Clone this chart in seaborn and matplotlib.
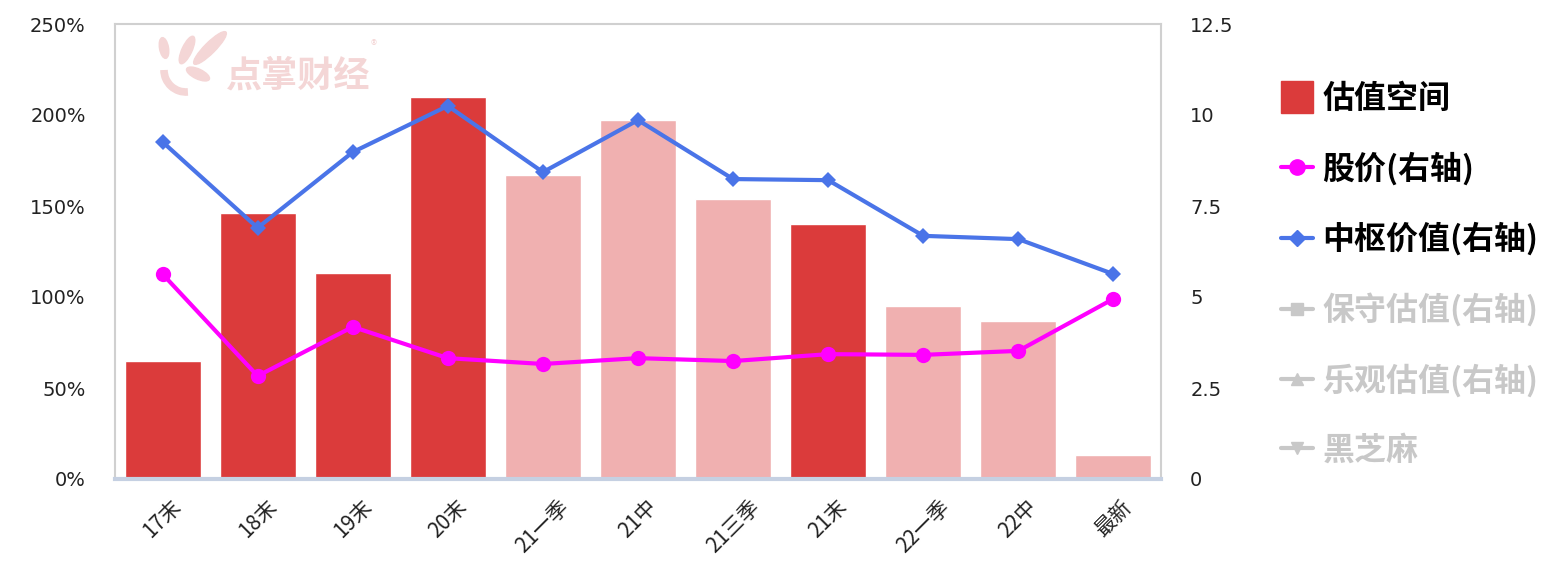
import numpy as np
import pandas as pd
import matplotlib
matplotlib.use("Agg")
import matplotlib.pyplot as plt
import seaborn as sns
from matplotlib.lines import Line2D
from matplotlib.patches import Ellipse, Arc
from matplotlib.transforms import IdentityTransform
from matplotlib.ticker import FuncFormatter, FixedLocator

# ---------------- data ----------------
categories = ["17末", "18末", "19末", "20末", "21一季", "21中", "21三季", "21末", "22一季", "22中", "最新"]
valuation_space = [65, 146, 113, 210, 167, 197, 154, 140, 95, 87, 13]   # 估值空间 (%)
is_year_end = [True, True, True, True, False, False, False, True, False, False, False]
stock_price = [5.63, 2.83, 4.18, 3.32, 3.16, 3.32, 3.24, 3.43, 3.41, 3.52, 4.95]   # 股价(右轴)
pivot_value = [9.26, 6.90, 8.98, 10.25, 8.43, 9.86, 8.24, 8.21, 6.68, 6.59, 5.63]  # 中枢价值(右轴)
left_ticks = [0, 50, 100, 150, 200, 250]
right_ticks = [0, 2.5, 5, 7.5, 10, 12.5]
right_tick_labels = ["0", "2.5", "5", "7.5", "10", "12.5"]
legend_labels = ["估值空间", "股价(右轴)", "中枢价值(右轴)", "保守估值(右轴)", "乐观估值(右轴)", "黑芝麻"]
watermark_text = "点掌财经"

# ---------------- style ----------------
sns.set_theme(style="white")
plt.rcParams["font.family"] = ["Noto Sans CJK SC", "DejaVu Sans"]

DARK_RED = "#DB3B3B"
LIGHT_RED = "#F0B0B0"
MAGENTA = "#FF00FF"
BLUE = "#4A74E8"
GRAY = "#C8C8C8"
WM = "#F4D6D6"

W, H = 1552, 572
fig = plt.figure(figsize=(W / 100, H / 100), dpi=100)
ax = fig.add_axes([115 / W, (H - 479) / H, (1161 - 115) / W, (479 - 24) / H])

df = pd.DataFrame({"cat": categories, "val": valuation_space})
palette = [DARK_RED if e else LIGHT_RED for e in is_year_end]
sns.barplot(data=df, x="cat", y="val", hue="cat", palette=palette, legend=False,
            width=0.8, saturation=1, ax=ax, zorder=2)

ax.set_xlim(-0.5, len(categories) - 0.5)
ax.set_ylim(0, 250)
ax.yaxis.set_major_locator(FixedLocator(left_ticks))
ax.yaxis.set_major_formatter(FuncFormatter(lambda v, p: f"{v:.0f}%"))
ax.set_xlabel("")
ax.set_ylabel("")
ax.tick_params(axis="y", length=0, pad=21, labelsize=14, labelcolor="#222222")
ax.tick_params(axis="x", length=0, pad=12, labelsize=15, labelcolor="#222222")
for lab in ax.get_yticklabels():
    lab.set_family(["DejaVu Sans"])
for lab in ax.get_xticklabels():
    lab.set_rotation(45)
    lab.set_ha("center")
    lab.set_va("top")
    lab.set_family(["Noto Sans CJK SC", "DejaVu Sans"])

for side in ["left", "top", "right"]:
    ax.spines[side].set_color("#D0D0D0")
    ax.spines[side].set_linewidth(1.5)
ax.spines["bottom"].set_color("#C5D0E2")
ax.spines["bottom"].set_linewidth(3)

# watermark (pixel coordinates, y measured from the top of the image)
def px(xi, yi):
    return (xi, H - yi)

fig.text(226 / W, 1 - 76 / H, watermark_text, fontsize=26, fontweight="bold",
         color=WM, ha="left", va="center", zorder=1)
fig.text(371 / W, 1 - 46 / H, "®", fontsize=9, color=WM, ha="left", va="center", zorder=1)
for (cx, cy, ln, wd, ang) in [(164, 48, 21, 9, 100), (187, 50, 30, 10, 65),
                              (210, 48, 45, 11, 45), (198, 74, 25, 10, -25)]:
    fig.add_artist(Ellipse(px(cx, cy), ln, wd, angle=ang, transform=IdentityTransform(),
                           color=WM, zorder=1))
fig.add_artist(Arc(px(186, 70), 44, 44, theta1=180, theta2=275, transform=IdentityTransform(),
                   color=WM, linewidth=5.5, zorder=1))

# right axis lines
ax2 = ax.twinx()
x = np.arange(len(categories))
sns.lineplot(x=x, y=stock_price, ax=ax2, color=MAGENTA, linewidth=3, marker="o",
             markersize=11, markeredgewidth=0, zorder=4)
sns.lineplot(x=x, y=pivot_value, ax=ax2, color=BLUE, linewidth=3, marker="D",
             markersize=8, markeredgewidth=0, zorder=4)
ax2.set_ylim(0, 12.5)
ax2.set_xlim(-0.5, len(categories) - 0.5)
ax2.yaxis.set_major_locator(FixedLocator(right_ticks))
ax2.set_yticklabels(right_tick_labels)
ax2.tick_params(axis="y", length=0, pad=21, labelsize=14, labelcolor="#222222")
for lab in ax2.get_yticklabels():
    lab.set_family(["DejaVu Sans"])
ax2.grid(False)
ax.grid(False)
for side in ["left", "top", "right", "bottom"]:
    ax2.spines[side].set_visible(False)

# legend
handles = [
    Line2D([], [], marker="s", markersize=23, color=DARK_RED, linestyle="none"),
    Line2D([], [], marker="o", markersize=11, color=MAGENTA, linewidth=3),
    Line2D([], [], marker="D", markersize=8, color=BLUE, linewidth=3),
    Line2D([], [], marker="s", markersize=9, color=GRAY, linewidth=3),
    Line2D([], [], marker="^", markersize=9, color=GRAY, linewidth=3),
    Line2D([], [], marker="v", markersize=9, color=GRAY, linewidth=3),
]
leg = ax2.legend(handles, legend_labels, loc="upper left",
                 bbox_to_anchor=(1268 / W, (H - 70) / H), bbox_transform=fig.transFigure,
                 frameon=False, prop={"family": ["Noto Sans CJK SC", "DejaVu Sans"],
                                      "weight": "bold", "size": 23},
                 handlelength=1.0, handletextpad=0.3, labelspacing=1.16, borderaxespad=0)
for i, t in enumerate(leg.get_texts()):
    t.set_color("#000000" if i < 3 else GRAY)

fig.savefig("out.png", dpi=100)
